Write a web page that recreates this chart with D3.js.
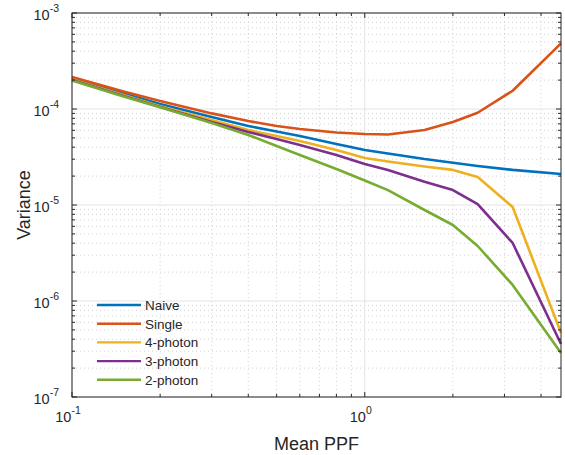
<!DOCTYPE html>
<html>
<head>
<meta charset="utf-8">
<script src="https://cdn.jsdelivr.net/npm/d3@7"></script>
<style>
  body { margin: 0; background: #fff; }
  text { font-family: "Liberation Sans", Arial, sans-serif; fill: #262626; }
</style>
</head>
<body>
<div id="chart-area"></div>
<script>
// mean PPF sample points
let ppf = [0.1, 0.15, 0.2, 0.3, 0.4, 0.5, 0.6, 0.8, 1.0, 1.2, 1.6, 2.0, 2.43, 3.2, 4.68];

let naive   = [2.08e-4, 1.45e-4, 1.13e-4, 8.26e-5, 6.65e-5, 5.83e-5, 5.24e-5, 4.32e-5, 3.74e-5, 3.44e-5, 3.01e-5, 2.76e-5, 2.55e-5, 2.32e-5, 2.10e-5];
let single  = [2.15e-4, 1.52e-4, 1.21e-4, 9.0e-5, 7.5e-5, 6.65e-5, 6.19e-5, 5.69e-5, 5.49e-5, 5.43e-5, 6.04e-5, 7.33e-5, 9.14e-5, 1.55e-4, 4.83e-4];
let photon4 = [2.03e-4, 1.40e-4, 1.07e-4, 7.67e-5, 6.04e-5, 5.24e-5, 4.65e-5, 3.74e-5, 3.09e-5, 2.84e-5, 2.52e-5, 2.32e-5, 1.96e-5, 9.53e-6, 4.64e-7];
let photon3 = [2.00e-4, 1.37e-4, 1.05e-4, 7.33e-5, 5.76e-5, 4.87e-5, 4.22e-5, 3.32e-5, 2.67e-5, 2.32e-5, 1.75e-5, 1.43e-5, 1.02e-5, 4.02e-6, 3.56e-7];
let photon2 = [1.98e-4, 1.35e-4, 1.04e-4, 7.15e-5, 5.36e-5, 4.12e-5, 3.32e-5, 2.37e-5, 1.80e-5, 1.43e-5, 8.87e-6, 6.19e-6, 3.74e-6, 1.47e-6, 2.87e-7];

let seriesNames = ["Naive", "Single", "4-photon", "3-photon", "2-photon"];
let seriesColors = ["#0072BD", "#D95319", "#EDB120", "#7E2F8E", "#77AC30"];
let seriesData = [naive, single, photon4, photon3, photon2];

let xTicks = [0.1, 1];
let xTickExp = ["-1", "0"];
let yTicks = [1e-7, 1e-6, 1e-5, 1e-4, 1e-3];
let yTickExp = ["-7", "-6", "-5", "-4", "-3"];

let margin = { left: 72, right: 4, top: 13, bottom: 58 };
let width = 565 - margin.left - margin.right;
let height = 455 - margin.top - margin.bottom;

let svg = d3.select("#chart-area")
  .append("svg")
  .attr("width", 565)
  .attr("height", 455);

let g = svg.append("g")
  .attr("transform", "translate(" + margin.left + "," + margin.top + ")");

let x = d3.scaleLog().domain([0.1, 4.68]).range([0, width]);
let y = d3.scaleLog().domain([1e-7, 1e-3]).range([height, 0]);

// minor grid values
let xMinor = [];
[0.1, 1].forEach(d => { for (let k = 2; k <= 9; k++) if (d * k < 4.68) xMinor.push(d * k); });
let yMinor = [];
[1e-7, 1e-6, 1e-5, 1e-4].forEach(d => { for (let k = 2; k <= 9; k++) yMinor.push(d * k); });

// minor grid (dotted)
g.selectAll(".xminor").data(xMinor).enter().append("line")
  .attr("x1", d => x(d)).attr("x2", d => x(d))
  .attr("y1", 0).attr("y2", height)
  .attr("stroke", "#d2d2d2").attr("stroke-width", 1).attr("stroke-dasharray", "1,3");
g.selectAll(".yminor").data(yMinor).enter().append("line")
  .attr("x1", 0).attr("x2", width)
  .attr("y1", d => y(d)).attr("y2", d => y(d))
  .attr("stroke", "#d2d2d2").attr("stroke-width", 1).attr("stroke-dasharray", "1,3");

// major grid
g.selectAll(".xmajor").data(xTicks).enter().append("line")
  .attr("x1", d => x(d)).attr("x2", d => x(d))
  .attr("y1", 0).attr("y2", height)
  .attr("stroke", "#e3e3e3").attr("stroke-width", 1);
g.selectAll(".ymajor").data(yTicks).enter().append("line")
  .attr("x1", 0).attr("x2", width)
  .attr("y1", d => y(d)).attr("y2", d => y(d))
  .attr("stroke", "#e3e3e3").attr("stroke-width", 1);

// curves
let line = d3.line()
  .x((d, i) => x(ppf[i]))
  .y(d => y(d));

seriesData.forEach((s, i) => {
  g.append("path")
    .datum(s)
    .attr("fill", "none")
    .attr("stroke", seriesColors[i])
    .attr("stroke-width", 2.6)
    .attr("stroke-linejoin", "round")
    .attr("d", line);
});

// box + inward ticks on all sides
let axisColor = "#262626";
g.append("rect")
  .attr("x", 0).attr("y", 0).attr("width", width).attr("height", height)
  .attr("fill", "none").attr("stroke", axisColor).attr("stroke-width", 1);

let tickSet = (vals, len) => {
  vals.forEach(v => {
    g.append("line").attr("x1", x(v)).attr("x2", x(v)).attr("y1", height).attr("y2", height - len).attr("stroke", axisColor);
    g.append("line").attr("x1", x(v)).attr("x2", x(v)).attr("y1", 0).attr("y2", len).attr("stroke", axisColor);
  });
};
tickSet(xTicks, 5);
tickSet(xMinor, 3);

let tickSetY = (vals, len) => {
  vals.forEach(v => {
    g.append("line").attr("x1", 0).attr("x2", len).attr("y1", y(v)).attr("y2", y(v)).attr("stroke", axisColor);
    g.append("line").attr("x1", width).attr("x2", width - len).attr("y1", y(v)).attr("y2", y(v)).attr("stroke", axisColor);
  });
};
tickSetY(yTicks, 5);
tickSetY(yMinor, 3);

// tick labels with superscripts
xTicks.forEach((v, i) => {
  let t = g.append("text")
    .attr("x", x(v) - 4)
    .attr("y", height + 25)
    .attr("text-anchor", "middle")
    .attr("font-size", "14.5px");
  t.append("tspan").text("10");
  t.append("tspan").attr("dy", "-8").attr("font-size", "10.5px").text(xTickExp[i]);
});

yTicks.forEach((v, i) => {
  let t = g.append("text")
    .attr("x", -13)
    .attr("y", y(v) + 7)
    .attr("text-anchor", "end")
    .attr("font-size", "14.5px");
  t.append("tspan").text("10");
  t.append("tspan").attr("dy", "-8").attr("font-size", "10.5px").text(yTickExp[i]);
});

// axis labels
g.append("text")
  .attr("x", width / 2)
  .attr("y", height + 53)
  .attr("text-anchor", "middle")
  .attr("font-size", "18px")
  .text("Mean PPF");

g.append("text")
  .attr("x", -(height / 2))
  .attr("y", -42)
  .attr("text-anchor", "middle")
  .attr("font-size", "18px")
  .attr("transform", "rotate(-90)")
  .text("Variance");

// legend
let legend = g.append("g").attr("transform", "translate(25, 292)");
seriesNames.forEach((n, i) => {
  legend.append("line")
    .attr("x1", 0).attr("x2", 44)
    .attr("y1", i * 18.7).attr("y2", i * 18.7)
    .attr("stroke", seriesColors[i]).attr("stroke-width", 2.4);
  legend.append("text")
    .attr("x", 48)
    .attr("y", i * 18.7 + 5)
    .attr("font-size", "13.5px")
    .text(n);
});
</script>
</body>
</html>
